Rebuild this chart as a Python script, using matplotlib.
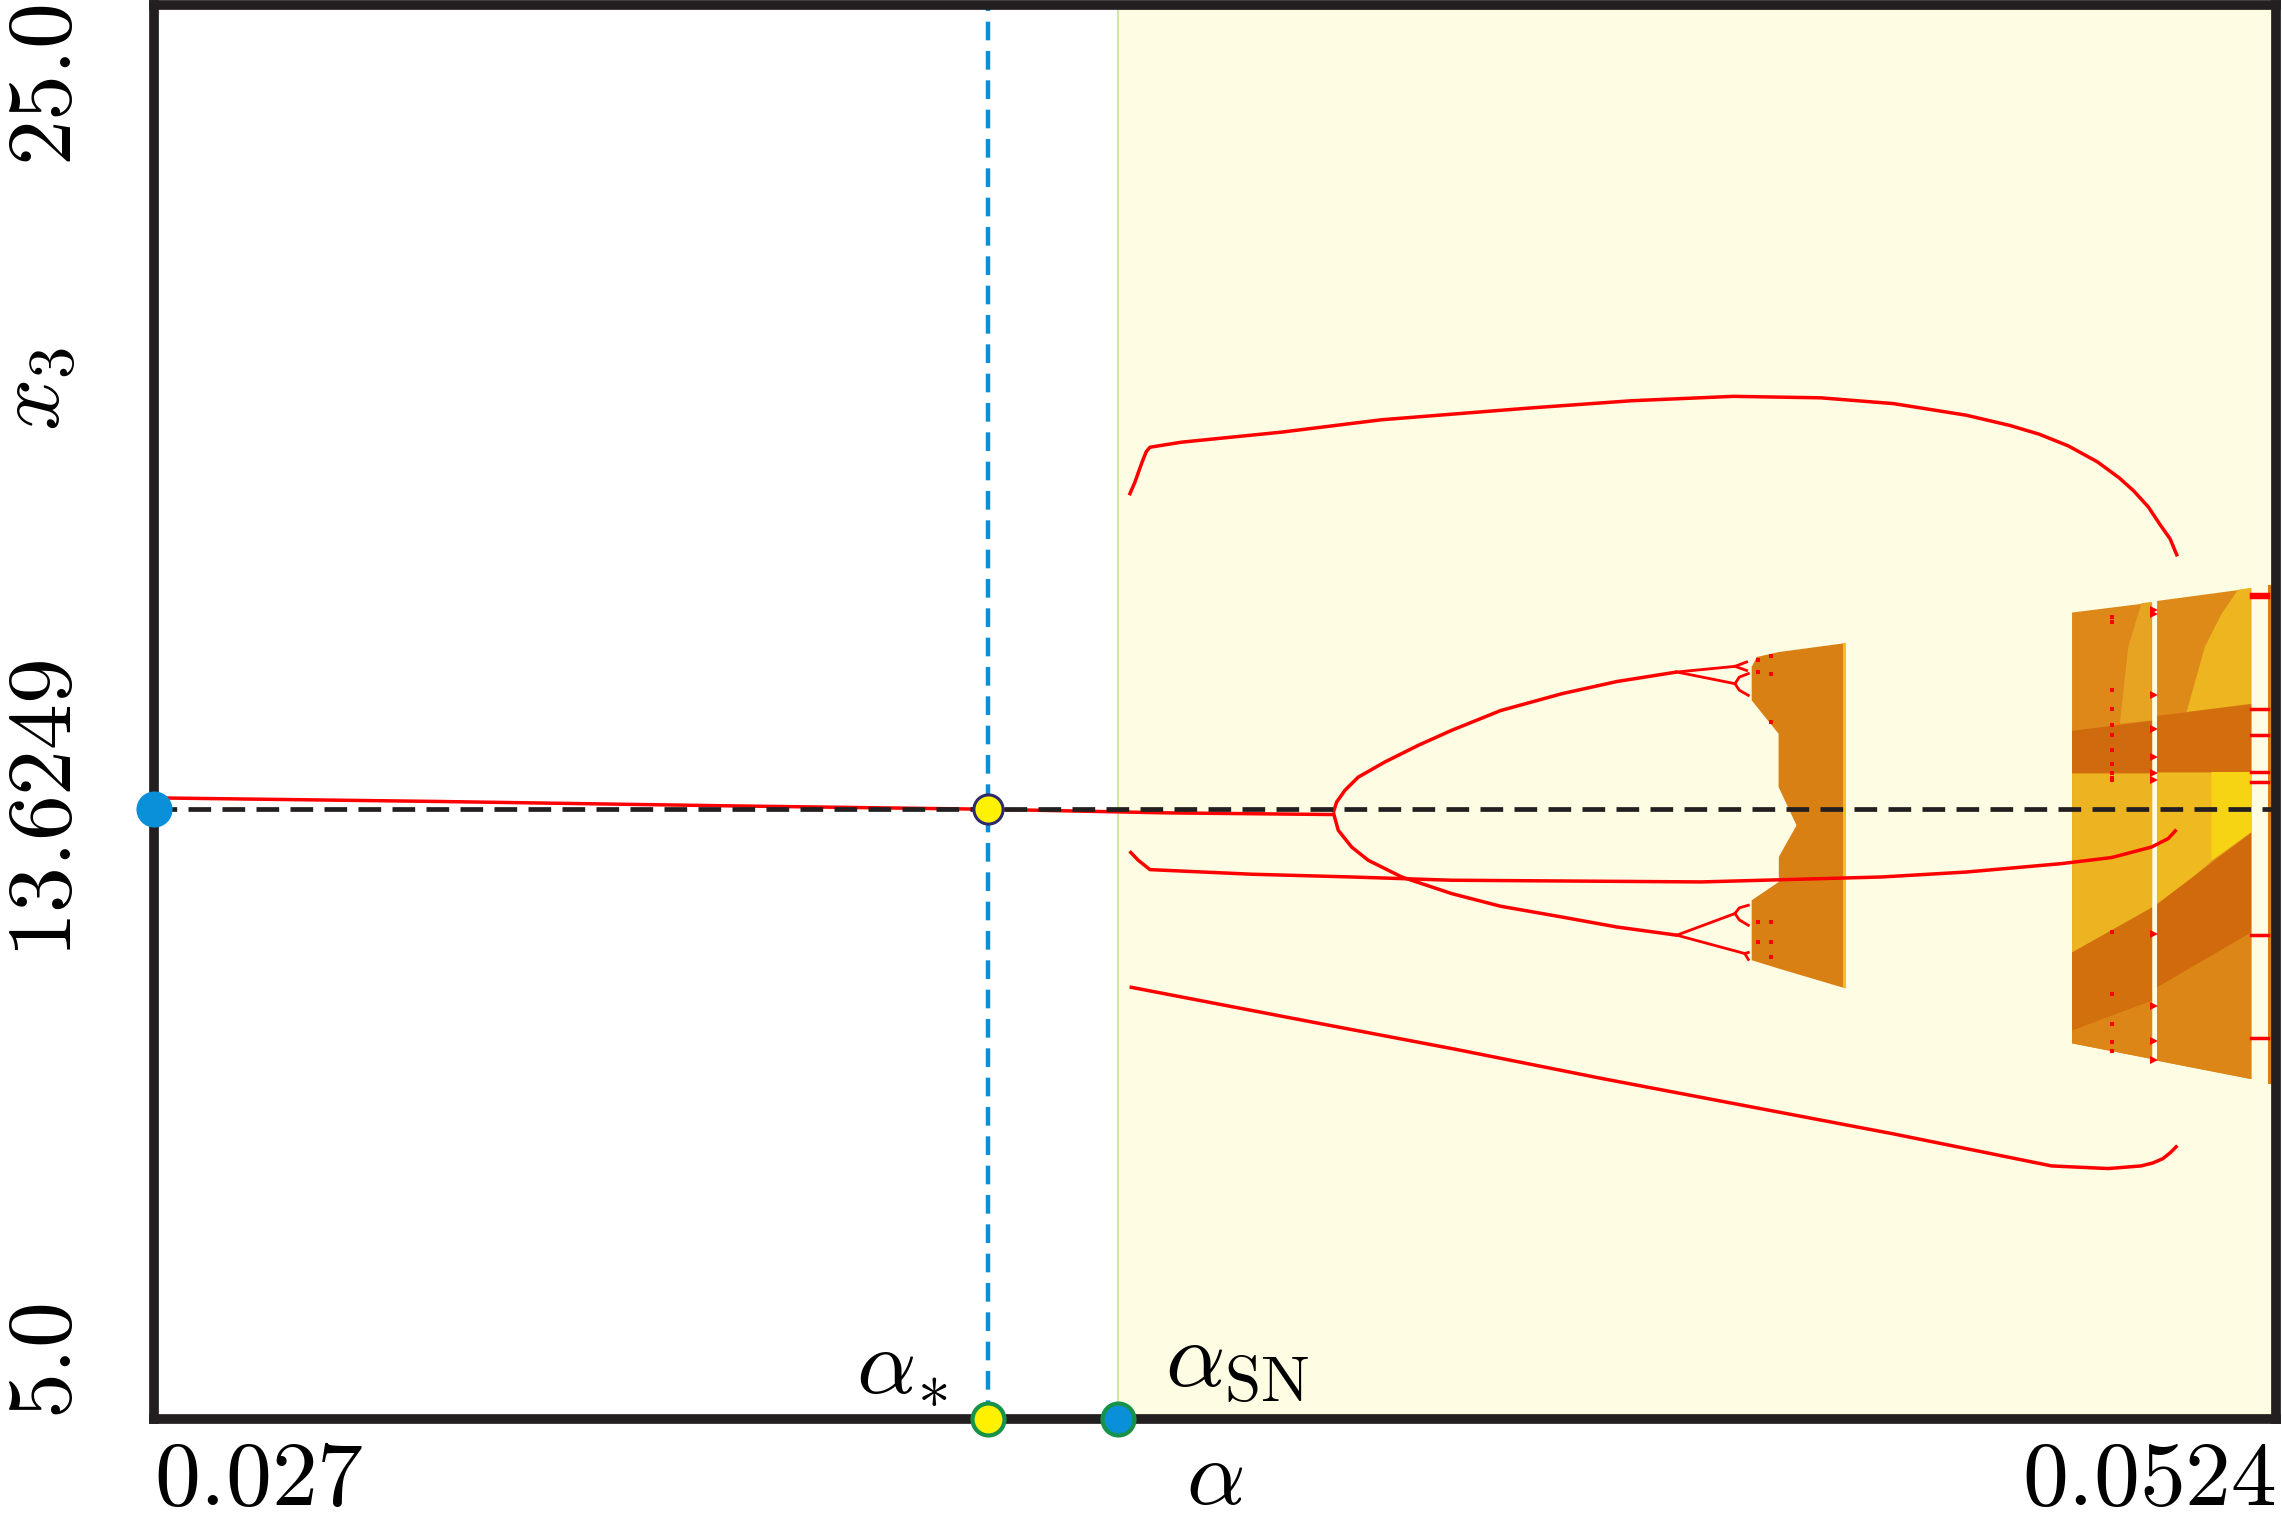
import numpy as np
import matplotlib.pyplot as plt

plt.rcParams['mathtext.fontset'] = 'cm'
plt.rcParams['font.family'] = ['DejaVu Serif']

# ---- values ----
a_min, a_max = 0.027, 0.0524
x3_min, x3_max = 5.0, 25.0
x3_star = 13.6249
alpha_star = 0.036982
alpha_sn = 0.038541

# fixed point branch up to the period doubling
fp_a = [0.02700, 0.030406, 0.033890, 0.036982, 0.039116, 0.041137]
fp_x3 = [13.786, 13.735, 13.673, 13.625, 13.574, 13.550]

# period-2 arcs
p2_up_a = [0.041120, 0.041160, 0.041259, 0.041419, 0.041738, 0.042137, 0.042536, 0.043123,
           0.043855, 0.044517, 0.045231]
p2_up_x3 = [13.580, 13.728, 13.893, 14.080, 14.294, 14.529, 14.741, 15.021,
            15.259, 15.432, 15.566]
p2_lo_a = [0.041120, 0.041179, 0.041339, 0.041538, 0.041939, 0.042536, 0.043123,
           0.043855, 0.044517, 0.045231]
p2_lo_x3 = [13.580, 13.327, 13.091, 12.903, 12.667, 12.432, 12.253,
            12.101, 11.959, 11.844]

# period-4 / period-8 pieces of the cascade
cascade_a = [
    [0.045231, 0.045928, 0.046067],
    [0.045928, 0.046067],
    [0.045231, 0.045928],
    [0.045928, 0.045980, 0.046088],
    [0.045928, 0.045980, 0.046088],
    [0.045231, 0.045928],
    [0.045928, 0.045980, 0.046088],
    [0.045928, 0.045980, 0.046088],
    [0.045231, 0.046046, 0.046088],
    [0.046046, 0.046088],
]
cascade_x3 = [
    [15.566, 15.646, 15.708],
    [15.646, 15.588],
    [15.566, 15.401],
    [15.401, 15.494, 15.543],
    [15.401, 15.309, 15.236],
    [11.844, 12.150],
    [12.150, 12.230, 12.267],
    [12.150, 12.060, 11.984],
    [11.844, 11.584, 11.599],
    [11.584, 11.500],
]

# period-3 orbit born at alpha_SN
p3_top_a = [0.038677, 0.038707, 0.038745, 0.038794, 0.038845, 0.038881, 0.038925, 0.039029,
            0.039304, 0.040501, 0.041698, 0.043471, 0.044691, 0.045911, 0.046956, 0.047827,
            0.048698, 0.049220, 0.049569, 0.049917, 0.050266, 0.050527, 0.050701, 0.050876,
            0.051015, 0.051137, 0.051224]
p3_top_x3 = [18.066, 18.148, 18.251, 18.416, 18.580, 18.683, 18.745, 18.765,
             18.817, 18.959, 19.134, 19.300, 19.403, 19.465, 19.444, 19.362,
             19.198, 19.053, 18.930, 18.765, 18.539, 18.313, 18.128, 17.901,
             17.654, 17.449, 17.202]
p3_mid_a = [0.038681, 0.038785, 0.038925, 0.040142, 0.041339, 0.042536, 0.045527, 0.047682,
            0.048698, 0.049837, 0.050437, 0.050916, 0.051114, 0.051213]
p3_mid_x3 = [13.031, 12.903, 12.771, 12.706, 12.667, 12.621, 12.597, 12.667,
             12.737, 12.856, 12.942, 13.091, 13.210, 13.337]
p3_bot_a = [0.038681, 0.040858, 0.042600, 0.044343, 0.046085, 0.047827, 0.049719,
            0.050396, 0.050788, 0.050928, 0.051050, 0.051137, 0.051224]
p3_bot_x3 = [11.111, 10.617, 10.226, 9.815, 9.424, 9.033, 8.580,
             8.543, 8.580, 8.621, 8.683, 8.765, 8.868]

# first chaotic band (outline)
band1_a = [0.046189, 0.046450, 0.047252, 0.047252, 0.046450, 0.046128, 0.046128,
           0.046453, 0.046453, 0.046665, 0.046450, 0.046450, 0.046128, 0.046128]
band1_x3 = [15.778, 15.848, 15.975, 11.091, 11.372, 11.490, 12.337,
            12.597, 12.951, 13.397, 13.940, 14.693, 15.165, 15.638]
band1_dots_a = [0.046200, 0.046200, 0.046200, 0.046200, 0.046365, 0.046365, 0.046365, 0.046365, 0.046365, 0.046365]
band1_dots_x3 = [15.730, 15.566, 12.031, 11.749, 15.788, 15.543, 14.858, 12.031, 11.749, 11.537]

# chaotic band A
bandA_a = [0.049957, 0.050916]
bandA_top = [16.414, 16.556]
bandA_bot = [10.321, 10.099]
bandA_dark_hi = [14.741, 14.883]
bandA_dark_lo = [14.138, 14.138]
bandA_yel_lo = [11.605, 12.243]
bandA_low_hi = [10.500, 10.924]
bandA_wedge_a = [0.050795, 0.050916, 0.050916, 0.050536, 0.050635]
bandA_wedge_x3 = [16.541, 16.556, 14.883, 14.835, 15.920]

# chaotic band B
bandB_a = [0.050975, 0.052104]
bandB_top = [16.578, 16.757]
bandB_bot = [10.076, 9.815]
bandB_dark_hi = [14.953, 15.117]
bandB_dark_lo = [14.152, 14.152]
bandB_yel_a = [0.050975, 0.051334, 0.051633, 0.052104]
bandB_yel_lo = [12.290, 12.597, 12.903, 13.302]
bandB_low_hi = [11.111, 11.889]
bandB_wedge_a = [0.051952, 0.052104, 0.052104, 0.051334, 0.051553, 0.051754]
bandB_wedge_x3 = [16.730, 16.757, 15.117, 15.000, 15.920, 16.391]
bandB_bright_a = [0.051633, 0.052104, 0.052104, 0.051633]
bandB_bright_x3 = [14.152, 14.152, 13.302, 12.903]

# chaotic band C (runs into the right frame)
bandC_a = [0.052311, 0.0524]
bandC_top = [16.790, 16.790]
bandC_bot = [9.733, 9.733]

# periodic-window points inside / at the edges of bands A, B
redA_x3 = [16.344, 16.274, 15.307, 15.047, 14.813, 14.671, 14.459, 14.270, 14.138, 14.072,
           14.035, 11.889, 11.018, 10.584, 10.335, 10.208]
redA_a = 0.050437
redAB_x3 = [16.450, 16.380, 15.237, 14.760, 14.366, 14.138, 14.035, 11.866, 10.840, 10.350, 10.076]
redAB_a = 0.050945
redB_x3 = [16.673, 16.620, 15.047, 14.671, 14.152, 14.010, 11.844, 10.383]
redB_a = [0.052104, 0.052311]

RED = '#FF0000'
INK = '#231F20'

fig = plt.figure(figsize=(22.82, 15.19), dpi=100)
ax = fig.add_axes([0.0674, 0.0658, 0.9298, 0.9309])
ax.set_xlim(a_min, a_max)
ax.set_ylim(x3_min, x3_max)

# shaded region beyond the saddle-node
ax.axvspan(alpha_sn, a_max, color='#FEFCE3', lw=0, zorder=0)
ax.axvline(alpha_sn, color='#C5E39C', lw=1.2, zorder=1)

# chaotic bands
ax.fill(band1_a, band1_x3, color='#D98014', lw=0, zorder=2)
ax.fill_betweenx([band1_x3[2], band1_x3[3]], 0.047226, band1_a[2], color='#F2C215', lw=0, zorder=2)

ax.fill_between(bandA_a, bandA_bot, bandA_top, color='#DD8818', lw=0, zorder=2)
ax.fill(bandA_wedge_a, bandA_wedge_x3, color='#E7A423', lw=0, zorder=2)
ax.fill_between(bandA_a, bandA_dark_lo, bandA_dark_hi, color='#CF6A0E', lw=0, zorder=2)
ax.fill_between(bandA_a, bandA_yel_lo, bandA_dark_lo, color='#EBB420', lw=0, zorder=2)
ax.fill_between(bandA_a, bandA_low_hi, bandA_yel_lo, color='#D2700E', lw=0, zorder=2)
ax.fill_between(bandA_a, bandA_bot, bandA_low_hi, color='#DB8616', lw=0, zorder=2)

ax.fill_between(bandB_a, bandB_bot, bandB_top, color='#DE8A18', lw=0, zorder=2)
ax.fill(bandB_wedge_a, bandB_wedge_x3, color='#EDB520', lw=0, zorder=2)
ax.fill_between(bandB_a, bandB_dark_lo, bandB_dark_hi, color='#D26E0E', lw=0, zorder=2)
ax.fill_between(bandB_yel_a, bandB_yel_lo, np.full(4, bandB_dark_lo[0]), color='#EEBA1F', lw=0, zorder=2)
ax.fill(bandB_bright_a, bandB_bright_x3, color='#F6D414', lw=0, zorder=2)
ax.fill_between(bandB_a, bandB_low_hi, [bandB_yel_lo[0], bandB_yel_lo[-1]], color='#D1690D', lw=0, zorder=2)
ax.fill_between(bandB_a, bandB_bot, bandB_low_hi, color='#DC8617', lw=0, zorder=2)

ax.fill_between(bandC_a, bandC_bot, bandC_top, color='#D98014', lw=0, zorder=2)

# bifurcation branches
kw = dict(color=RED, lw=2.5, solid_capstyle='butt', solid_joinstyle='round', zorder=3)
ax.plot(fp_a, fp_x3, **kw)
ax.plot(p2_up_a, p2_up_x3, **kw)
ax.plot(p2_lo_a, p2_lo_x3, **kw)
for ca, cx in zip(cascade_a, cascade_x3):
    ax.plot(ca, cx, color=RED, lw=2.0, zorder=3)
ax.plot(p3_top_a, p3_top_x3, **kw)
ax.plot(p3_mid_a, p3_mid_x3, **kw)
ax.plot(p3_bot_a, p3_bot_x3, **kw)

ax.plot(band1_dots_a, band1_dots_x3, 's', color=RED, ms=3, mew=0, zorder=3)
ax.plot(np.full(len(redA_x3), redA_a), redA_x3, 's', color=RED, ms=3.5, mew=0, zorder=3)
ax.plot(np.full(len(redAB_x3), redAB_a), redAB_x3, '>', color=RED, ms=6, mew=0, zorder=3)
for y in redB_x3:
    ax.plot(redB_a, [y, y], color=RED, lw=2.5, zorder=3)

# reference lines
ax.axhline(x3_star, color=INK, lw=3.4, dashes=(4.8, 2.4), zorder=4)
ax.axvline(alpha_star, color='#0B8FD9', lw=3.2, dashes=(4.2, 2.4), zorder=4)

# markers
ax.plot([a_min], [x3_star], 'o', ms=26, color='#0A8FD9', mec='none', clip_on=False, zorder=8)
ax.plot([alpha_star], [x3_star], 'o', ms=21, mfc='#FFF200', mec='#2D2A6E', mew=2.2, zorder=8)
ax.plot([alpha_star], [x3_min], 'o', ms=23, mfc='#FFF100', mec='#17924A', mew=3, clip_on=False, zorder=8)
ax.plot([alpha_sn], [x3_min], 'o', ms=23, mfc='#0A8FD9', mec='#17924A', mew=3, clip_on=False, zorder=8)

# annotations
ax.text(0.03650, 5.39, r'$\alpha_{\!*}$', fontsize=67, ha='right', va='baseline', zorder=9)
ax.text(0.039108, 5.47, r'$\alpha_{\mathrm{SN}}$', fontsize=67, ha='left', va='baseline', zorder=9)

# frame and ticks
for s in ax.spines.values():
    s.set_linewidth(7)
    s.set_color(INK)
    s.set_zorder(7)

ax.set_xticks([a_min, a_max])
ax.set_xticklabels([r'$0.027$', r'$0.0524$'])
ax.set_yticks([x3_min, x3_star, x3_max])
ax.set_yticklabels([r'$5.0$', r'$13.6249$', r'$25.0$'], rotation=90)
ax.tick_params(length=0, labelsize=66)
ax.tick_params(axis='x', pad=12)
ax.tick_params(axis='y', pad=46)
xl = ax.get_xticklabels()
xl[0].set_ha('left')
xl[1].set_ha('right')
yl = ax.get_yticklabels()
yl[0].set_va('bottom')
yl[1].set_va('center')
yl[2].set_va('top')

ax.set_xlabel(r'$\alpha$', fontsize=66, va='baseline')
ax.xaxis.set_label_coords(0.5, -0.0600)
ax.set_ylabel(r'$x_3$', fontsize=66, va='bottom')
ax.yaxis.set_label_coords(-0.0353, 0.728)

fig.savefig('out.png', dpi=100)
